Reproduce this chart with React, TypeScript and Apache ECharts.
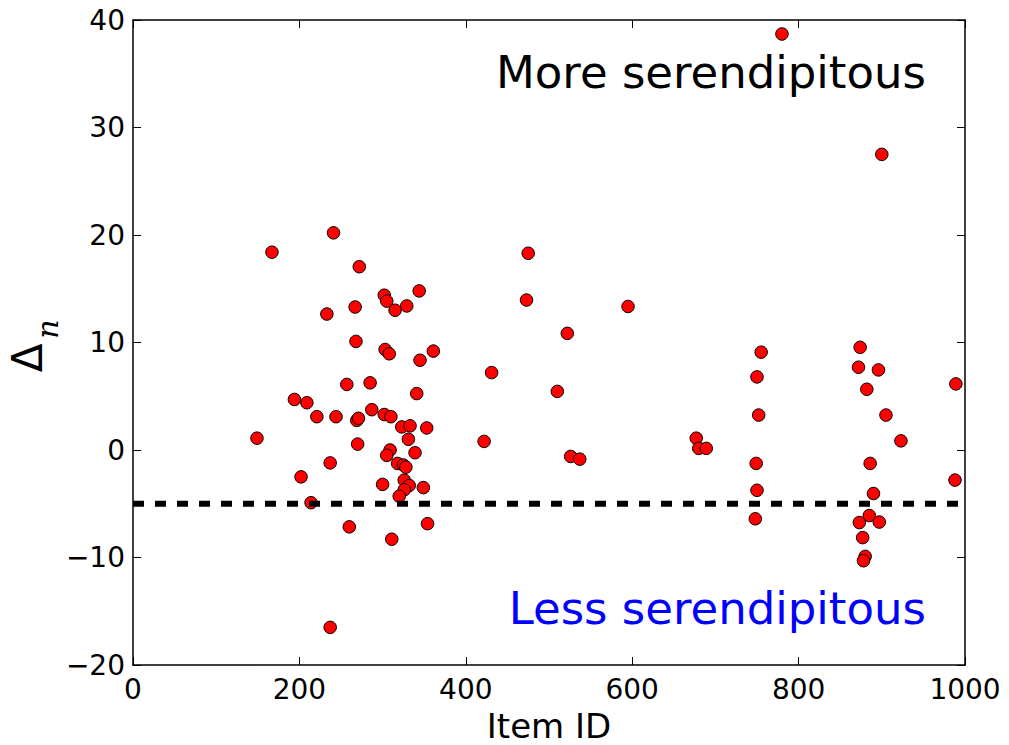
import React, { useEffect, useRef } from 'react';
import * as echarts from 'echarts';

// Item IDs (x) and serendipity deltas (y)
const itemIds = [
  149, 167, 241, 272, 233, 267, 268, 257, 285, 194, 209, 221, 244, 269, 271, 287, 270, 237, 202, 214,
  260, 237, 300, 302, 305, 344, 329, 315, 303, 308, 361, 345, 341, 302, 310, 323, 333, 353, 331, 309,
  305, 339, 318, 325, 328, 326, 332, 326, 320, 349, 354, 311, 475, 473, 595, 522, 431, 510, 422, 526,
  537, 677, 680, 689, 755, 750, 752, 749, 750, 748, 874, 872, 896, 882, 905, 923, 886, 890, 885, 873,
  897, 877, 880, 878, 989, 988, 780, 900,
];
const deltas = [
  1.1, 18.4, 20.2, 17.05, 12.65, 13.3, 10.1, 6.1, 6.25, 4.7, 4.4, 3.1, 3.1, 2.75, 2.95, 3.75, 0.55, -1.2, -2.5, -4.9,
  -7.15, -16.5, -3.2, 14.4, 13.85, 14.8, 13.4, 13.0, 9.35, 8.95, 9.2, 8.35, 5.25, 3.3, 3.1, 2.15, 2.25, 2.05, 1.0, 0.0,
  -0.5, -0.25, -1.25, -1.4, -1.6, -2.8, -3.3, -3.7, -4.3, -3.5, -6.85, -8.3, 18.3, 13.95, 13.35, 10.85, 7.2, 5.45, 0.8, -0.6,
  -0.85, 1.1, 0.15, 0.15, 9.1, 6.8, 3.25, -1.25, -3.75, -6.4, 9.55, 7.7, 7.45, 5.65, 3.25, 0.85, -1.25, -4.05, -6.1, -6.75,
  -6.7, -8.15, -9.9, -10.3, 6.15, -2.8, 38.7, 27.5,
];
const xRange = [0, 1000];
const xStep = 200;
const yRange = [-20, 40];
const yStep = 10;
const threshold = -5;
const upperLabel = 'More serendipitous';
const lowerLabel = 'Less serendipitous';
const xTitle = 'Item ID';

const FONT = 'DejaVu Sans';

export default function App() {
  const ref = useRef<HTMLDivElement>(null);
  useEffect(() => {
    const chart = echarts.init(ref.current as HTMLDivElement, null, { renderer: 'svg' });
    const points = itemIds.map((x, i) => [x, deltas[i]]);
    const minusFmt = (v: number) => String(v).replace('-', '\u2212');
    const axisLine = { show: true, onZero: false, lineStyle: { color: '#000', width: 1.5 } };
    const axisTick = { show: true, inside: true, length: 8, lineStyle: { color: '#000', width: 1 } };
    const xBase = { type: 'value', min: xRange[0], max: xRange[1], interval: xStep, splitLine: { show: false }, axisLine, axisTick };
    const yBase = { type: 'value', min: yRange[0], max: yRange[1], interval: yStep, splitLine: { show: false }, axisLine, axisTick };
    chart.setOption({
      animation: false,
      backgroundColor: '#fff',
      textStyle: { fontFamily: FONT },
      grid: { left: 133, right: 44, top: 20, bottom: 80, show: false, containLabel: false, outerBoundsMode: 'none' },
      xAxis: [
        {
          ...xBase,
          position: 'bottom',
          axisLabel: { color: '#000', fontSize: 28, margin: 10, fontFamily: FONT, formatter: minusFmt },
          name: xTitle,
          nameLocation: 'middle',
          nameGap: 44,
          nameTextStyle: { fontSize: 34, color: '#000', fontFamily: FONT },
        },
        { ...xBase, position: 'top', axisLabel: { show: false } },
      ],
      yAxis: [
        {
          ...yBase,
          position: 'left',
          axisLabel: { color: '#000', fontSize: 28, margin: 8, fontFamily: FONT, formatter: minusFmt },
        },
        { ...yBase, position: 'right', axisLabel: { show: false } },
      ],
      series: [
        {
          type: 'scatter',
          data: points,
          symbol: 'circle',
          symbolSize: 12.5,
          itemStyle: { color: '#ff0000', borderColor: '#000', borderWidth: 1, opacity: 1 },
          z: 3,
        },
        {
          type: 'line',
          data: [[xRange[0], threshold], [xRange[1], threshold]],
          symbol: 'none',
          lineStyle: { color: '#000', width: 6, type: [11, 11], cap: 'butt' },
          z: 4,
        },
      ],
      graphic: [
        {
          type: 'text',
          x: 926,
          y: 72,
          style: {
            text: upperLabel, fontSize: 45, fontFamily: FONT, fill: '#000',
            align: 'right', verticalAlign: 'middle', textAlign: 'right', textVerticalAlign: 'middle',
          },
        },
        {
          type: 'text',
          x: 926,
          y: 608,
          style: {
            text: lowerLabel, fontSize: 45, fontFamily: FONT, fill: '#0000ff',
            align: 'right', verticalAlign: 'middle', textAlign: 'right', textVerticalAlign: 'middle',
          },
        },
        {
          type: 'text',
          x: 27,
          y: 358,
          rotation: Math.PI / 2,
          style: {
            text: '\u0394', fontSize: 42, fontFamily: FONT, fill: '#000',
            align: 'center', verticalAlign: 'middle', textAlign: 'center', textVerticalAlign: 'middle',
          },
        },
        {
          type: 'text',
          x: 47,
          y: 329,
          rotation: Math.PI / 2,
          style: {
            text: 'n', fontSize: 30, fontFamily: 'DejaVu Serif', fontStyle: 'italic', fill: '#000',
            align: 'center', verticalAlign: 'middle', textAlign: 'center', textVerticalAlign: 'middle',
          },
        },
      ],
    });
    return () => chart.dispose();
  }, []);
  return <div ref={ref} style={{ position: 'fixed', left: 0, top: 0, width: 1009, height: 745 }} />;
}
